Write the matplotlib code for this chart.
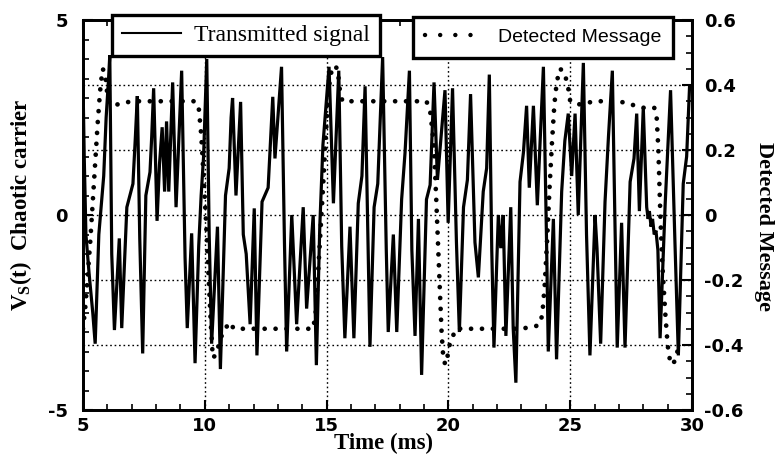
import matplotlib
matplotlib.use("Agg")
import matplotlib.pyplot as plt
from matplotlib.lines import Line2D
from matplotlib.ticker import MultipleLocator

# ---------------- data ----------------
sig_t = [5.00, 5.05, 5.12, 5.25, 5.40, 5.50, 5.65, 5.85, 5.95, 6.05, 6.10, 6.18, 6.29, 6.49, 6.59,
         6.80, 7.05, 7.15, 7.23, 7.33, 7.45, 7.58, 7.75, 7.82, 7.90, 8.04, 8.14, 8.25, 8.35, 8.43,
         8.52, 8.68, 8.82, 9.05, 9.19, 9.28, 9.46, 9.60, 9.75, 9.85, 9.95, 10.08, 10.18, 10.28,
         10.52, 10.64, 10.85, 11.00, 11.08, 11.14, 11.28, 11.47, 11.58, 11.70, 11.86, 12.03, 12.14,
         12.35, 12.60, 12.79, 12.88, 13.15, 13.27, 13.36, 13.57, 13.77, 14.04, 14.18, 14.45, 14.58,
         14.72, 14.85, 15.10, 15.28, 15.50, 15.62, 15.75, 15.96, 16.12, 16.30, 16.45, 16.58, 16.78,
         16.95, 17.10, 17.30, 17.45, 17.53, 17.74, 17.88, 18.08, 18.22, 18.40, 18.50, 18.63, 18.77,
         18.90, 19.10, 19.25, 19.41, 19.55, 19.86, 19.99, 20.17, 20.33, 20.45, 20.62, 20.78, 20.91,
         21.09, 21.23, 21.43, 21.57, 21.68, 21.78, 21.87, 22.05, 22.15, 22.25, 22.36, 22.56, 22.66,
         22.77, 22.94, 23.08, 23.21, 23.32, 23.49, 23.65, 23.90, 24.03, 24.10, 24.31, 24.44, 24.65,
         24.78, 24.92, 25.06, 25.20, 25.33, 25.54, 25.67, 25.81, 26.02, 26.10, 26.25, 26.43, 26.57,
         26.73, 26.84, 26.93, 27.11, 27.25, 27.46, 27.62, 27.73, 27.84, 28.00, 28.14, 28.20, 28.25,
         28.32, 28.38, 28.45, 28.52, 28.60, 28.69, 28.90, 29.12, 29.30, 29.44, 29.64, 29.78, 29.90,
         30.00]
sig_v = [3.4, 1.5, -0.5, -1.5, -2.5, -3.3, -0.5, 1.0, 2.5, 3.5, 4.1, -1.0, -2.95, -0.6, -2.9,
         0.2, 0.8, 2.0, 3.05, -0.6, -3.55, 0.5, 1.1, 2.0, 3.25, -0.15, 1.3, 2.25, 0.6, 2.4,
         0.6, 3.4, 0.2, 3.7, -1.1, -2.9, -0.47, -3.8, -0.8, 0.5, 1.5, 4.0, -0.5, -3.3,
         -0.3, -3.95, 0.5, 1.2, 2.5, 3.0, 0.5, 2.9, -0.5, -1.0, -2.8, 0.17, -3.6,
         0.34, 0.7, 3.03, 1.45, 3.8, -0.7, -3.5, 0.0, -2.8, 0.2, -2.4, 0.0, -3.85,
         -0.3, 1.8, 3.8, 0.3, 3.7, -0.8, -3.16, -0.3, -3.16, 0.3, 1.0, 3.3, -3.38,
         0.2, 0.8, 4.05, -0.9, -3.0, -0.5, -3.0, 0.4, 1.6, 3.7, -0.9, -3.1, -0.1,
         -4.1, 0.4, 0.77, 3.4, 0.9, 3.2, -0.2, 3.25, -0.7, -3.0, 0.2, 0.9, 3.1,
         -0.7, -1.6, 0.6, 1.2, 3.6, -0.9, -3.4, 0.0, -0.85, 0.0, -3.1, 0.2, -2.9,
         -4.3, 0.85, 1.6, 2.8, 0.7, 2.8, 0.25, 3.8, -0.7, -3.5, -0.1, -3.7, 0.6,
         1.9, 2.6, 1.0, 2.6, 0.0, 3.9, -0.5, -3.6, 0.0, -0.85, -3.3, 0.34, 2.0,
         3.7, -0.3, -3.4, -0.2, -3.4, 0.85, 1.45, 2.6, 0.1, 2.75, 0.2, -0.1, 0.1,
         -0.3, -0.1, -0.5, -0.4, -0.9, -3.16, 0.3, 3.2, -0.7, -3.6, 0.8, 1.5, 3.3,
         3.3]

msg_t = [5.00, 5.10, 5.20, 5.30, 5.40, 5.50, 5.60, 5.70, 5.80, 5.90, 6.00, 6.10, 6.40, 7.0, 8.0,
         9.0, 9.60, 9.75, 9.85, 9.95, 10.05, 10.15, 10.25, 10.33, 10.45, 10.70, 11.00, 11.2, 12.0,
         13.0, 14.0, 14.45, 14.55, 14.65, 14.75, 14.85, 14.95, 15.05, 15.15, 15.30, 15.45, 15.55,
         15.65, 16.0, 17.0, 18.0, 19.1, 19.25, 19.40, 19.50, 19.58, 19.66, 19.72, 19.80, 19.90,
         20.05, 20.30, 21.0, 22.0, 23.0, 23.70, 23.85, 23.95, 24.05, 24.15, 24.25, 24.35, 24.45,
         24.58, 24.75, 24.90, 25.00, 25.40, 26.0, 27.0, 27.5, 28.0, 28.45, 28.55, 28.62, 28.70,
         28.78, 28.90, 29.00, 29.12, 29.30, 29.40]
msg_v = [-0.35, -0.28, -0.18, -0.08, 0.04, 0.16, 0.28, 0.38, 0.45, 0.44, 0.37, 0.34, 0.34, 0.35, 0.35,
         0.35, 0.35, 0.33, 0.25, 0.12, -0.02, -0.18, -0.34, -0.44, -0.43, -0.37, -0.33, -0.35, -0.35,
         -0.35, -0.35, -0.35, -0.30, -0.18, -0.05, 0.08, 0.22, 0.35, 0.43, 0.46, 0.45, 0.38,
         0.35, 0.35, 0.35, 0.35, 0.35, 0.32, 0.22, 0.05, -0.10, -0.25, -0.36, -0.45, -0.46,
         -0.40, -0.35, -0.35, -0.35, -0.35, -0.34, -0.31, -0.22, -0.08, 0.08, 0.22, 0.34, 0.41,
         0.45, 0.44, 0.40, 0.35, 0.34, 0.35, 0.35, 0.34, 0.33, 0.33, 0.30, 0.20, 0.00,
         -0.15, -0.30, -0.40, -0.46, -0.45, -0.42]

x_ticks = [5, 10, 15, 20, 25, 30]
left_ticks = [-5, 0, 5]
right_ticks = [-0.6, -0.4, -0.2, 0, 0.2, 0.4, 0.6]
right_labels = ["-0.6", "-0.4", "-0.2", "0", "0.2", "0.4", "0.6"]

# ---------------- style ----------------
plt.rcParams['axes.unicode_minus'] = False
plt.rcParams['mathtext.fontset'] = 'custom'
plt.rcParams['mathtext.rm'] = 'Liberation Serif:bold'
plt.rcParams['mathtext.it'] = 'Liberation Serif:bold'
plt.rcParams['mathtext.bf'] = 'Liberation Serif:bold'

tick_font = dict(family='DejaVu Sans', weight='bold', size=13)
serif_bold = dict(family='Liberation Serif', weight='bold', size=16.5)

fig = plt.figure(figsize=(7.75, 4.62), dpi=100)
ax = fig.add_axes([83/775, 1 - 410/462, (692 - 83)/775, (410 - 20)/462])
ax2 = ax.twinx()

ax.plot(sig_t, sig_v, color='black', lw=2.3, solid_joinstyle='miter', zorder=3)
ax2.plot(msg_t, msg_v, color='black', lw=3.4, linestyle=(0, (0.01, 2.3)),
         dash_capstyle='round', zorder=3)

ax.set_xlim(5, 30)
ax.set_ylim(-5, 5)
ax2.set_ylim(-0.6, 0.6)

ax.set_xticks(x_ticks)
ax.xaxis.set_minor_locator(MultipleLocator(1))
ax.set_yticks(left_ticks)
ax.yaxis.set_minor_locator(MultipleLocator(0.5))
ax2.set_yticks(right_ticks)
ax2.set_yticklabels(right_labels)
ax2.yaxis.set_minor_locator(MultipleLocator(0.05))

ax.tick_params(axis='x', which='both', direction='in', top=True, bottom=True, pad=5)
ax.tick_params(axis='y', which='both', direction='in', left=True, right=False, pad=11)
ax2.tick_params(axis='y', which='both', direction='in', right=True, left=False, pad=9)
for a in (ax, ax2):
    a.tick_params(which='major', length=7, width=1.5, colors='black')
    a.tick_params(which='minor', length=4, width=1.2, colors='black')
    for s in a.spines.values():
        s.set_linewidth(2)
for lab in ax.get_xticklabels() + ax.get_yticklabels() + ax2.get_yticklabels():
    lab.set_fontproperties(matplotlib.font_manager.FontProperties(**tick_font))

ax.grid(axis='x', which='major', color='black', linestyle=(0, (1.2, 2.0)), lw=1.0)
ax2.grid(axis='y', which='major', color='black', linestyle=(0, (1.2, 2.0)), lw=1.0)

# axis labels
fig.text(383/775, 1 - 443/462, 'Time (ms)', ha='center', va='center', **serif_bold)
fig.text(21/775, 1 - 205/462, r'$\mathrm{V_S(t)}$  Chaotic carrier', ha='center', va='center',
         rotation=90, **serif_bold)
fig.text(764/775, 1 - 226/462, 'Detected Message', ha='center', va='center',
         rotation=270, **dict(serif_bold, size=16))

# legends (two separate boxes)
h1 = Line2D([], [], color='black', lw=1.5)
leg1 = fig.legend([h1], ['Transmitted signal'], loc='upper left',
                  bbox_to_anchor=(112/775, 1 - 15/462), bbox_transform=fig.transFigure,
                  prop=dict(family='Liberation Serif', size=17), frameon=True, fancybox=False,
                  handlelength=2.5, handletextpad=0.55, borderpad=0.42, borderaxespad=0)
leg1.get_frame().set_edgecolor('black')
leg1.get_frame().set_linewidth(2.4)
leg1.get_frame().set_alpha(1)

h2 = Line2D([], [], color='black', lw=3.2, linestyle=(0, (0.01, 3.4)), dash_capstyle='round')
leg2 = fig.legend([h2], ['Detected Message'], loc='upper left',
                  bbox_to_anchor=(413/775, 1 - 17/462), bbox_transform=fig.transFigure,
                  prop=dict(family='Liberation Sans', size=14), frameon=True, fancybox=False,
                  handlelength=3.0, handletextpad=0.75, borderpad=0.6, borderaxespad=0)
leg2.get_frame().set_edgecolor('black')
leg2.get_frame().set_linewidth(2.4)
leg2.get_frame().set_alpha(1)

fig.savefig('out.png', dpi=100)
